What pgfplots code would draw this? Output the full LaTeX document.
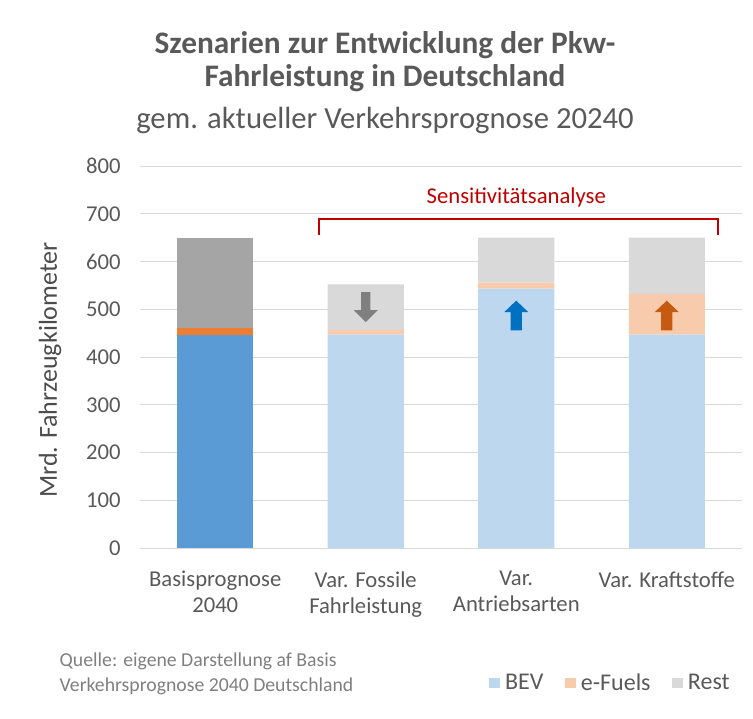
\documentclass[border=0pt]{standalone}
\usepackage{pgfplots}
\pgfplotsset{compat=1.18}
\usepackage{fontspec}
\setmainfont{Carlito}
\definecolor{txt}{HTML}{595959}
\definecolor{bevD}{HTML}{5B9BD5}
\definecolor{efD}{HTML}{ED7D31}
\definecolor{restD}{HTML}{A5A5A5}
\definecolor{bevL}{HTML}{BDD7EE}
\definecolor{efL}{HTML}{F8CBAD}
\definecolor{restL}{HTML}{D9D9D9}
\definecolor{sensRed}{HTML}{C00000}
\definecolor{arrGray}{HTML}{7F7F7F}
\definecolor{arrBlue}{HTML}{0070C0}
\definecolor{arrBrown}{HTML}{C55A11}

\begin{document}
\begin{tikzpicture}
% page = 753 x 718 px at 0.75 pt/px, plot box lower left at origin
\useasboundingbox (-105pt,-127.5pt) rectangle (459.75pt,411pt);
\begin{axis}[
  at={(0,0)}, anchor=south west,
  scale only axis,
  width=451.5pt, height=286.5pt,
  ybar stacked,
  bar width=57pt,
  xmin=-0.5, xmax=3.5,
  ymin=0, ymax=800,
  axis lines*=left,
  axis line style={draw=none},
  xtick={0,1,2,3},
  xticklabels={Basisprognose\\2040, Var. Fossile\\Fahrleistung, Var.\\Antriebsarten, Var. Kraftstoffe},
  ytick={0,100,...,800},
  ymajorgrids=true,
  grid style={line width=0.75pt, draw=restL},
  tick style={draw=none},
  tick label style={font=\fontsize{17}{19.5}\selectfont, text=txt},
  xticklabel style={align=center, yshift=-14pt},
  yticklabel style={xshift=-11pt},
  /pgf/number format/assume math mode=true,
  clip=false,
  legend style={at={(0.782,-0.353)}, anchor=center, draw=none, fill=none,
    legend columns=3, font=\fontsize{18}{20}\selectfont, text=txt,
    /tikz/every odd column/.append style={column sep=2pt},
    /tikz/every even column/.append style={column sep=14pt}},
  legend image code/.code={\fill[#1] (0pt,-4pt) rectangle (8pt,4pt);},
]
% Basisprognose (dark colours), sensitivity variants (light colours)
\addplot[fill=bevD, draw=none, forget plot] coordinates {(0,447) (1,0) (2,0) (3,0)};
\addplot[fill=bevL, draw=none] coordinates {(0,0) (1,447) (2,543) (3,447)};
\addlegendentry{BEV}
\addplot[fill=efD, draw=none, forget plot] coordinates {(0,13) (1,0) (2,0) (3,0)};
\addplot[fill=efL, draw=none] coordinates {(0,0) (1,10) (2,13) (3,85)};
\addlegendentry{e-Fuels}
\addplot[fill=restD, draw=none, forget plot] coordinates {(0,190) (1,0) (2,0) (3,0)};
\addplot[fill=restL, draw=none] coordinates {(0,0) (1,95) (2,94) (3,118)};
\addlegendentry{Rest}

% anchor points for the arrows (drawn after the axis, on top of the bars)
\coordinate (arrA) at (axis cs:1,505);
\coordinate (arrB) at (axis cs:2,487);
\coordinate (arrC) at (axis cs:3,487);

% bracket
\draw[sensRed, line width=1.5pt] (axis cs:0.687,655) -- (axis cs:0.687,689) -- (axis cs:3.34,689) -- (axis cs:3.34,655);
\node[text=sensRed, font=\fontsize{17}{20}\selectfont] at (axis cs:2.0,735) {Sensitivitätsanalyse};
\end{axis}

% arrows
\fill[arrGray, shift={(arrA)}] (-3.4pt,11.1pt) -- (3.4pt,11.1pt) -- (3.4pt,-2.5pt) -- (9pt,-2.5pt)
  -- (0pt,-11.5pt) -- (-9pt,-2.5pt) -- (-3.4pt,-2.5pt) -- cycle;
\foreach \a/\c in {arrB/arrBlue, arrC/arrBrown}{
  \fill[\c, shift={(\a)}] (-4.3pt,-11.1pt) -- (4.3pt,-11.1pt) -- (4.3pt,2.5pt) -- (9pt,2.5pt)
    -- (0pt,11.1pt) -- (-9pt,2.5pt) -- (-4.3pt,2.5pt) -- cycle;
}

\node[text=txt, font=\fontsize{23.5}{27}\selectfont\bfseries] at (183.75pt,377.25pt) {Szenarien zur Entwicklung der Pkw-};
\node[text=txt, font=\fontsize{23.5}{27}\selectfont\bfseries] at (183.75pt,352.5pt) {Fahrleistung in Deutschland};
\node[text=txt, font=\fontsize{23}{27}\selectfont] at (183.75pt,321pt) {gem. aktueller Verkehrsprognose 20240};
\node[text=txt!85!black, font=\fontsize{19.5}{22}\selectfont, rotate=90] at (-67.5pt,133.5pt) {Mrd. Fahrzeugkilometer};
\node[text=arrGray, font=\fontsize{14.8}{18.5}\selectfont, align=left, anchor=west] at (-63.75pt,-94.5pt)
  {Quelle: eigene Darstellung af Basis\\Verkehrsprognose 2040 Deutschland};
\end{tikzpicture}
\end{document}
